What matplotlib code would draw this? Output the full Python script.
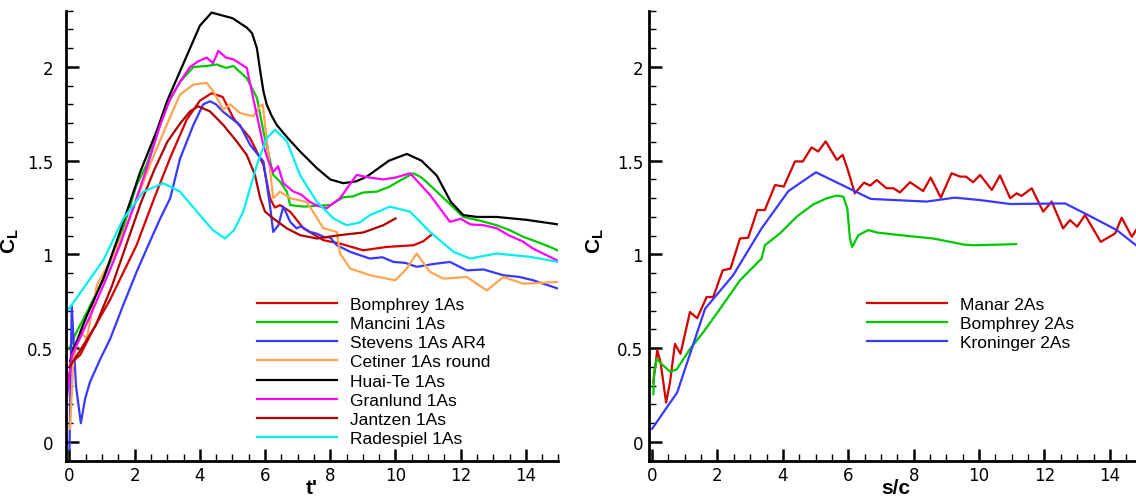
import matplotlib
matplotlib.use("Agg")
import matplotlib.pyplot as plt
from matplotlib.ticker import MultipleLocator, FuncFormatter

plt.rcParams['font.family'] = ['Liberation Sans', 'DejaVu Sans']
plt.rcParams['mathtext.fontset'] = 'custom'
plt.rcParams['mathtext.bf'] = 'Liberation Sans:bold'
plt.rcParams['mathtext.rm'] = 'Liberation Sans:bold'
plt.rcParams['mathtext.it'] = 'Liberation Sans:bold'
plt.rcParams['mathtext.default'] = 'bf'

# ---------- left panel: 1As ----------
bomphrey1_t = [-0.08, 0.07, 0.33, 0.73, 1.25, 2.06, 2.6, 3.1, 3.6, 4.0, 4.36, 4.7, 5.03, 5.54, 5.95, 6.15,
               6.3, 6.46, 6.77, 7.18, 7.79, 8.3, 9.01, 9.73, 10.55, 10.85, 11.11]
bomphrey1_c = [0.30, 0.425, 0.464, 0.60, 0.76, 1.05, 1.30, 1.52, 1.72, 1.82, 1.86, 1.84, 1.727, 1.62, 1.478, 1.30,
               1.25, 1.263, 1.228, 1.139, 1.076, 1.058, 1.022, 1.04, 1.049, 1.07, 1.106]

mancini_t = [0.0, 0.17, 0.53, 1.04, 1.55, 2.06, 2.37, 2.68, 3.0, 3.39, 3.8, 4.2, 4.52, 4.8, 5.03, 5.25, 5.44,
             5.75, 5.95, 6.25, 6.45, 6.67, 6.77, 7.2, 7.59, 8.0, 8.4, 8.7, 9.0, 9.43, 9.8, 10.2, 10.55, 10.8,
             11.16, 11.6, 12.08, 12.6, 13.1, 13.5, 13.92, 14.3, 14.74, 15.0]
mancini_c = [0.50, 0.57, 0.69, 0.87, 1.085, 1.37, 1.48, 1.64, 1.80, 1.92, 2.0, 2.005, 2.013, 1.995, 2.005, 1.97, 1.94,
             1.835, 1.656, 1.424, 1.39, 1.335, 1.263, 1.255, 1.26, 1.263, 1.305, 1.31, 1.33, 1.335, 1.36, 1.40,
             1.433, 1.41, 1.353, 1.28, 1.20, 1.18, 1.156, 1.13, 1.094, 1.07, 1.04, 1.02]

stevens_t = [0.0, 0.07, 0.2, 0.35, 0.48, 0.63, 0.94, 1.25, 1.65, 2.06, 2.47, 2.78, 3.09, 3.39, 3.8, 4.1, 4.31,
             4.5, 4.72, 5.23, 5.54, 5.95, 6.15, 6.25, 6.41, 6.56, 6.77, 6.97, 7.1, 7.38, 7.6, 7.79, 8.0, 8.2,
             8.61, 8.91, 9.22, 9.6, 9.94, 10.3, 10.65, 11.2, 11.67, 12.19, 12.7, 13.31, 13.8, 14.23, 15.0]
stevens_c = [-0.04, 0.73, 0.30, 0.10, 0.23, 0.32, 0.44, 0.55, 0.73, 0.907, 1.07, 1.19, 1.30, 1.51, 1.69, 1.80, 1.817,
             1.80, 1.76, 1.69, 1.585, 1.496, 1.263, 1.12, 1.156, 1.255, 1.174, 1.139, 1.15, 1.12, 1.11, 1.094, 1.09, 1.049,
             1.014, 0.996, 0.978, 0.985, 0.96, 0.955, 0.934, 0.95, 0.96, 0.915, 0.92, 0.889, 0.88, 0.862, 0.817]

cetiner_t = [0.02, 0.12, 0.33, 0.53, 0.84, 1.45, 1.96, 2.47, 2.98, 3.39, 3.8, 4.21, 4.41, 4.72, 4.93, 5.23,
             5.64, 5.85, 5.93, 6.25, 6.46, 6.77, 7.28, 7.79, 8.2, 8.3, 8.61, 9.22, 9.99, 10.35, 10.65, 11.06,
             11.47, 12.19, 12.8, 13.31, 13.92, 14.95]
cetiner_c = [0.07, 0.44, 0.59, 0.55, 0.835, 1.03, 1.245, 1.478, 1.69, 1.852, 1.906, 1.915, 1.87, 1.772, 1.80, 1.754,
             1.737, 1.79, 1.80, 1.30, 1.335, 1.30, 1.28, 1.14, 1.12, 1.005, 0.925, 0.889, 0.862, 0.925, 1.005, 0.907,
             0.871, 0.88, 0.808, 0.88, 0.844, 0.853]

huaite_t = [0.02, 0.12, 0.5, 1.04, 1.55, 2.17, 2.68, 3.0, 3.5, 4.0, 4.36, 5.0, 5.44, 5.6, 5.75, 5.85, 5.95, 6.05,
            6.2, 6.36, 6.7, 7.07, 7.59, 8.0, 8.4, 8.8, 9.12, 9.8, 10.35, 10.8, 11.27, 11.7, 12.08, 12.5, 13.1, 14.0, 15.0]
huaite_c = [0.43, 0.49, 0.66, 0.87, 1.12, 1.44, 1.66, 1.82, 2.02, 2.22, 2.29, 2.26, 2.21, 2.18, 2.10, 1.98, 1.87, 1.80,
            1.74, 1.69, 1.62, 1.55, 1.46, 1.40, 1.38, 1.39, 1.415, 1.50, 1.536, 1.50, 1.42, 1.28, 1.21, 1.20, 1.20, 1.185, 1.16]

granlund_t = [-0.08, 0.07, 0.63, 1.25, 1.55, 1.96, 2.37, 2.78, 3.09, 3.39, 3.7, 3.95, 4.21, 4.4, 4.57, 4.8, 5.03,
              5.44, 5.64, 5.95, 6.1, 6.25, 6.4, 6.56, 6.87, 7.1, 7.38, 7.6, 7.89, 8.3, 8.81, 9.2, 9.63, 10.0,
              10.45, 11.06, 11.67, 12.0, 12.3, 12.7, 13.1, 13.5, 13.9, 14.23, 15.0]
granlund_c = [0.23, 0.46, 0.67, 0.92, 1.05, 1.25, 1.46, 1.69, 1.83, 1.92, 2.0, 2.03, 2.05, 2.02, 2.085, 2.05, 2.04,
              1.995, 1.83, 1.58, 1.50, 1.44, 1.47, 1.38, 1.335, 1.32, 1.28, 1.26, 1.246, 1.30, 1.424, 1.41, 1.40, 1.41,
              1.433, 1.317, 1.174, 1.19, 1.16, 1.156, 1.14, 1.10, 1.07, 1.03, 0.965]

jantzen_t = [0.0, 0.3, 0.8, 1.3, 1.76, 2.2, 2.6, 3.0, 3.4, 3.7, 3.95, 4.31, 4.72, 5.13, 5.44, 5.69, 5.85, 6.0,
             6.25, 6.67, 7.07, 7.59, 8.3, 9.01, 9.63, 10.0]
jantzen_c = [0.40, 0.48, 0.62, 0.83, 1.06, 1.28, 1.45, 1.60, 1.70, 1.763, 1.79, 1.763, 1.69, 1.603, 1.53, 1.424, 1.30,
             1.228, 1.192, 1.139, 1.103, 1.085, 1.103, 1.117, 1.156, 1.192]

radespiel_t = [-0.1, 0.27, 1.04, 1.65, 2.27, 2.88, 3.39, 4.0, 4.4, 4.77, 5.05, 5.33, 5.75, 6.05, 6.31, 6.67, 7.07,
               7.59, 8.1, 8.5, 8.9, 9.22, 9.83, 10.45, 11.06, 11.78, 12.29, 13.1, 14.13, 15.0]
radespiel_c = [0.69, 0.78, 0.97, 1.19, 1.335, 1.38, 1.335, 1.21, 1.13, 1.085, 1.13, 1.228, 1.478, 1.62, 1.665, 1.603, 1.424,
               1.28, 1.192, 1.156, 1.17, 1.21, 1.255, 1.228, 1.12, 1.014, 0.978, 1.005, 0.987, 0.96]

# ---------- right panel: 2As ----------
manar_s = [0.04, 0.16, 0.26, 0.43, 0.55, 0.70, 0.87, 1.16, 1.38, 1.67, 1.87, 2.16, 2.40, 2.69, 2.94, 3.22, 3.45,
           3.76, 4.03, 4.37, 4.61, 4.88, 5.08, 5.31, 5.65, 5.83, 5.97, 6.2, 6.48, 6.67, 6.87, 7.17, 7.38, 7.58,
           7.89, 8.29, 8.52, 8.83, 9.16, 9.42, 9.6, 9.82, 10.03, 10.39, 10.64, 10.95, 11.15, 11.3, 11.61, 11.96,
           12.22, 12.57, 12.78, 13.0, 13.24, 13.72, 14.16, 14.36, 14.67, 14.8, 15.0]
manar_c = [0.318, 0.49, 0.425, 0.21, 0.318, 0.523, 0.47, 0.693, 0.66, 0.773, 0.773, 0.915, 0.925, 1.085, 1.089,
           1.237, 1.237, 1.37, 1.362, 1.496, 1.496, 1.571, 1.549, 1.603, 1.504, 1.531, 1.46, 1.326, 1.383, 1.367,
           1.397, 1.353, 1.353, 1.331, 1.385, 1.338, 1.41, 1.303, 1.433, 1.415, 1.415, 1.385, 1.424, 1.344, 1.421,
           1.30, 1.326, 1.312, 1.353, 1.228, 1.282, 1.139, 1.183, 1.148, 1.21, 1.067, 1.112, 1.196, 1.094, 1.13, 1.17]

bomphrey2_s = [0.04, 0.06, 0.14, 0.29, 0.55, 0.75, 1.16, 1.57, 2.08, 2.69, 3.35, 3.45, 3.91, 4.42, 4.93, 5.34,
               5.65, 5.85, 5.97, 6.05, 6.12, 6.31, 6.61, 6.87, 7.58, 8.6, 9.52, 9.82, 11.13]
bomphrey2_c = [0.255, 0.37, 0.443, 0.416, 0.375, 0.386, 0.496, 0.586, 0.71, 0.862, 0.978, 1.049, 1.112, 1.201,
               1.267, 1.299, 1.314, 1.308, 1.246, 1.085, 1.04, 1.103, 1.13, 1.117, 1.103, 1.085, 1.053, 1.049, 1.055]

kroninger_s = [0.0, 0.77, 1.62, 2.48, 3.35, 4.17, 5.01, 6.69, 8.40, 9.26, 10.03, 10.95, 12.63, 13.29, 14.21,
               14.8, 15.0]
kroninger_c = [0.07, 0.264, 0.71, 0.889, 1.139, 1.338, 1.438, 1.296, 1.282, 1.303, 1.29, 1.269, 1.272, 1.214,
               1.13, 1.049, 1.03]

left_series = [
    ("Bomphrey 1As", bomphrey1_t, bomphrey1_c, "#d40000"),
    ("Mancini 1As", mancini_t, mancini_c, "#00c800"),
    ("Stevens 1As AR4", stevens_t, stevens_c, "#3838ff"),
    ("Cetiner 1As round", cetiner_t, cetiner_c, "#ffa54f"),
    ("Huai-Te 1As", huaite_t, huaite_c, "#000000"),
    ("Granlund 1As", granlund_t, granlund_c, "#ff00ff"),
    ("Jantzen 1As", jantzen_t, jantzen_c, "#b00000"),
    ("Radespiel 1As", radespiel_t, radespiel_c, "#00f0f0"),
]
right_series = [
    ("Manar 2As", manar_s, manar_c, "#d40000"),
    ("Bomphrey 2As", bomphrey2_s, bomphrey2_c, "#00c800"),
    ("Kroninger 2As", kroninger_s, kroninger_c, "#3838ff"),
]

fig = plt.figure(figsize=(11.36, 5.02), dpi=100)
ax1 = fig.add_axes([0.0577, 0.0803, 0.4339, 0.8964])
ax2 = fig.add_axes([0.5711, 0.0803, 0.4347, 0.8964])

fmt = FuncFormatter(lambda v, p: '%g' % v)

def style(ax, xlim, ypad):
    ax.set_xlim(*xlim)
    ax.set_ylim(-0.1, 2.3)
    for s in ['top', 'right']:
        ax.spines[s].set_visible(False)
    for s in ['left', 'bottom']:
        ax.spines[s].set_linewidth(2.0)
    ax.xaxis.set_major_locator(MultipleLocator(2))
    ax.xaxis.set_minor_locator(MultipleLocator(0.5))
    ax.yaxis.set_major_locator(MultipleLocator(0.5))
    ax.yaxis.set_minor_locator(MultipleLocator(0.1))
    ax.xaxis.set_major_formatter(fmt)
    ax.yaxis.set_major_formatter(fmt)
    ax.tick_params(which='major', direction='in', length=9, width=1.8, labelsize=12)
    ax.tick_params(which='minor', direction='in', length=5, width=1.0)
    ax.tick_params(axis='x', which='major', pad=4)
    ax.tick_params(axis='y', which='major', pad=ypad)
    for lab in ax.get_xticklabels() + ax.get_yticklabels():
        lab.set_family('DejaVu Sans')

for name, x, y, c in left_series:
    ax1.plot(x, y, color=c, lw=1.6, label=name)
for name, x, y, c in right_series:
    ax2.plot(x, y, color=c, lw=1.6, label=name)

style(ax1, (-0.12, 15), 9)
style(ax2, (-0.1, 15), 4)

ax1.set_xlabel("t'", fontsize=15, fontweight='bold')
ax1.xaxis.set_label_coords(0.5, -0.038)
ax2.set_xlabel("s/c", fontsize=15, fontweight='bold')
ax2.xaxis.set_label_coords(0.5, -0.038)
ax1.set_ylabel(r'$C_L$', fontsize=15)
ax1.yaxis.set_label_coords(-0.09, 0.49)
ax2.set_ylabel(r'$C_L$', fontsize=15)
ax2.yaxis.set_label_coords(-0.086, 0.49)

leg_kw = dict(loc='upper left', frameon=False, fontsize=12.5, handlelength=4.6, handletextpad=0.75,
              labelspacing=0.23, borderpad=0, borderaxespad=0)
ax1.legend(bbox_to_anchor=(0.388, 0.364), **leg_kw)
ax2.legend(bbox_to_anchor=(0.442, 0.364), **leg_kw)

fig.savefig('out.png', dpi=100)
